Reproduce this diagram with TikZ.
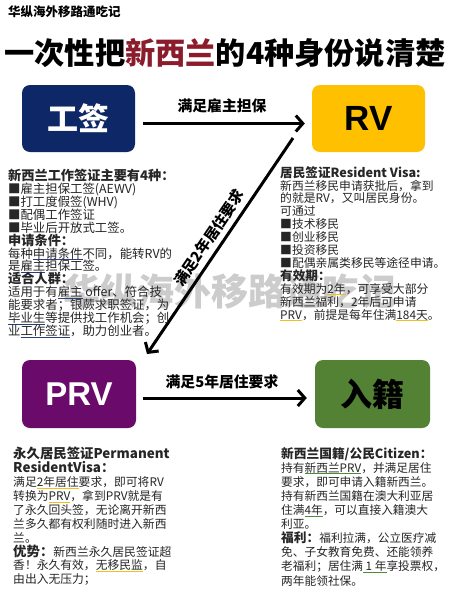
\documentclass[tikz,border=0pt]{standalone}
\usepackage{fontspec}
\setmainfont{Noto Sans CJK SC}
\newfontfamily\arialf{Liberation Sans}
\usetikzlibrary{arrows.meta}
\definecolor{navy}{HTML}{0E2766}
\definecolor{gold}{HTML}{FFC000}
\definecolor{plum}{HTML}{6A0A6B}
\definecolor{leaf}{HTML}{548235}
\definecolor{wine}{HTML}{8B1C2C}
\definecolor{ulnavy}{HTML}{2A3F7A}
\definecolor{ulgold}{HTML}{F0C020}
\definecolor{ulgreen}{HTML}{4E8A3A}
\newsavebox\ulbox
\newcommand\ulc[2]{\sbox\ulbox{#2}\rlap{\color{#1}\rule[-2.2pt]{\wd\ulbox}{1.1pt}}\usebox\ulbox}
\newcommand\nolsk{\lineskiplimit=-20pt\relax}
\newcommand\hdA{\bfseries\fontsize{13.2}{12.9}\selectfont}
\newcommand\hdB{\bfseries\fontsize{12.6}{12.9}\selectfont}
\newcommand\hdC{\bfseries\fontsize{13.4}{13.9}\selectfont}
\newcommand\hdD{\bfseries\fontsize{12.7}{14.1}\selectfont}
\tikzset{
  box/.style={rounded corners=8pt, minimum width=113pt, minimum height=67pt, inner sep=0pt},
  flow/.style={line width=3pt, -{Straight Barb[length=7pt,width=16pt]}},
  flowlabel/.style={font=\bfseries\fontsize{14.8}{15}\selectfont, inner sep=0pt},
  txt/.style={anchor=north west, align=left, inner sep=0pt, text=black!85},
}
\begin{document}
\begin{tikzpicture}[x=1pt,y=-1pt]
\useasboundingbox[fill=white] (0,0) rectangle (449,600);
% watermark
\node[text=black!20, font=\bfseries\fontsize{37}{37}\selectfont, inner sep=0pt] (wm) at (230,291) {华纵海外移路通吃记};
% header
\node[anchor=west, font=\bfseries\fontsize{12.5}{13}\selectfont, inner sep=0pt] (hdr) at (8,12) {华纵海外移路通吃记};
\node[font=\bfseries\fontsize{30.2}{31}\selectfont, inner sep=0pt] (title) at (225,53) {一次性把\textcolor{wine}{新西兰}的4种身份说清楚};
% boxes
\node[box, fill=navy, text=white, font=\bfseries\fontsize{31}{31}\selectfont] (gq) at (78.5,118.5) {工签};
\node[box, fill=gold, text=black, font=\arialf\bfseries\fontsize{35}{35}\selectfont] (rv) at (368.5,118.5) {RV};
\node[box, fill=plum, text=white, font=\arialf\bfseries\fontsize{33}{33}\selectfont, minimum width=114pt, minimum height=68pt] (prv) at (79,394) {PRV};
\node[box, fill=leaf, text=black, font=\bfseries\fontsize{32}{32}\selectfont, minimum width=115pt, minimum height=68pt] (rj) at (372.5,394) {入籍};
% arrows
\draw[flow, shorten <=8pt, shorten >=7pt] ([yshift=-5pt]gq.east) -- ([yshift=-5pt]rv.west);
\node[flowlabel] (l1) at (222,106) {满足雇主担保};
\draw[flow, shorten <=7pt, shorten >=8pt] ([yshift=-4pt]prv.east) -- ([yshift=-4pt]rj.west);
\node[flowlabel] (l3) at (222,382) {满足5年居住要求};
\coordinate (d1) at (293,138);
\coordinate (d2) at (147,354);
\draw[flow] (d1) -- (d2);
\node[flowlabel, rotate=55.9] (l2) at (209,238) {满足2年居住要求};
% text blocks
\node[txt, font=\fontsize{12.4}{12.9}\selectfont\nolsk] (tul) at (8,169) {%
{\hdA 新西兰工作签证主要有4种：}\\
■雇主担保工签(AEWV)\\
■打工度假签(WHV)\\
■配偶工作签证\\
■毕业后开放式工签。\\
{\hdA 申请条件：}\\
每种\ulc{ulnavy}{申请条件}不同，能转RV的\\
是\ulc{ulnavy}{雇主}担保工签。\\
{\hdA 适合人群：}\\
适用于有\ulc{ulnavy}{雇主} offer、符合技\\
能要求者；银蕨求职签证，为\\
\ulc{ulnavy}{毕业生}等提供找工作机会；创\\
业\ulc{ulnavy}{工作签证}，助力创业者。};
\node[txt, font=\fontsize{11.8}{12.9}\selectfont\nolsk] (tur) at (280,166) {%
{\hdB 居民签证Resident Visa:}\\
新西兰移民申请获批后，拿到\\
的就是RV，又叫居民身份。\\
可通过\\
■技术移民\\
■创业移民\\
■投资移民\\
■配偶亲属类移民等途径申请。\\
{\hdB 有效期：}\\
有效期为\ulc{ulgold}{2年}，可享受大部分\\
新西兰福利，2年后可申请\\
\ulc{ulgold}{PRV}，前提是每年住满\ulc{ulgold}{184天}。};
\node[txt, font=\fontsize{11.8}{13.9}\selectfont\nolsk] (tbl) at (13,447) {%
{\hdC 永久居民签证Permanent}\\
{\hdC ResidentVisa：}\\
满足\ulc{ulgold}{2年居住}要求，即可将RV\\
转换为\ulc{ulgold}{PRV}，拿到PRV就是有\\
了永久回头签，无论离开新西\\
兰多久都有权利随时进入新西\\
兰。\\
{\hdC 优势：}新西兰永久居民签证超\\
香！永久有效，\ulc{ulgold}{无移民监}，自\\
由出入无压力；};
\node[txt, font=\fontsize{11.7}{14.1}\selectfont\nolsk] (tbr) at (281,447) {%
{\hdD 新西兰国籍/公民Citizen：}\\
持有\ulc{ulgreen}{新西兰PRV}，并满足居住\\
要求，即可申请入籍新西兰。\\
持有新西兰国籍在澳大利亚居\\
住满\ulc{ulgreen}{4年}，可以直接入籍澳大\\
利亚。\\
{\hdD 福利：}福利拉满，公立医疗减\\
免、子女教育免费、还能领养\\
老福利；居住满\ulc{ulgreen}{ 1 年}享投票权，\\
两年能领社保。};
\end{tikzpicture}
\end{document}
